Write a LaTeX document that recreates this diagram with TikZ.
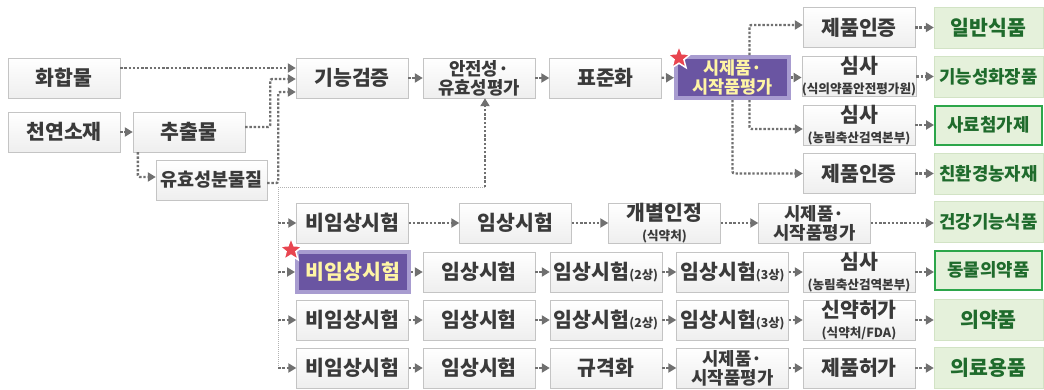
\documentclass[tikz,border=0pt]{standalone}
\usepackage{fontspec}
\setmainfont{Noto Sans CJK KR}
\usetikzlibrary{arrows.meta,positioning,shapes.geometric}
\definecolor{txtgray}{HTML}{3A3A3A}
\definecolor{lngray}{HTML}{707070}
\definecolor{bdrgray}{HTML}{C4C4C4}
\definecolor{grnfill}{HTML}{E5F1DB}
\definecolor{grntxt}{HTML}{1F6B2C}
\definecolor{grnbdr}{HTML}{D2E3C5}
\definecolor{grnline}{HTML}{2CA64A}
\definecolor{purp}{HTML}{6A55A2}
\definecolor{lav}{HTML}{A89CD0}
\definecolor{ylw}{HTML}{FFF5A5}
\definecolor{starred}{HTML}{E84550}
\newcommand{\subtxt}[1]{{\fontsize{12.6}{14}\selectfont #1}}
\newcommand{\phasetxt}[1]{{\fontsize{12.3}{13}\selectfont #1}}

\begin{document}
\begin{tikzpicture}[x=1pt,y=-1pt,>={Triangle[length=8pt,width=9pt]},
    base/.style={minimum width=112pt,minimum height=40pt,inner sep=0pt,align=center,font=\bfseries\fontsize{20.5}{20}\selectfont},
    box/.style={base,draw=bdrgray,top color=white,bottom color=gray!13,text=txtgray},
    twoline/.style={box,font=\bfseries\fontsize{17.8}{19}\selectfont},
    gbox/.style={base,draw=grnbdr,fill=grnfill,text=grntxt,minimum width=109pt,minimum height=41pt},
    gsmall/.style={font=\bfseries\fontsize{17.8}{19}\selectfont},
    hbox/.style={gbox,draw=grnline,line width=2pt,minimum width=107pt,minimum height=39pt},
    pbox/.style={base,draw=lav,line width=4pt,fill=purp,text=ylw},
    arr/.style={->,draw=lngray,line width=2.4pt,dash pattern=on 2.4pt off 1.8pt},
    thinline/.style={draw=gray!60,line width=0.8pt,dash pattern=on 1pt off 1pt},
    redstar/.style={star,star points=5,star point ratio=2.3,fill=starred,draw=white,line width=1.5pt,minimum size=24pt,inner sep=0pt}]
    \useasboundingbox (0,0) rectangle (1044,389);

    % sources
    \node[box] (hh) at (64,78) {화합물};
    \node[box] (cy) at (64,132) {천연소재};
    \node[box] (ex) at (189,132) {추출물};
    \node[box,minimum width=111pt,font=\bfseries\fontsize{18.5}{20}\selectfont] (ae) at (211.5,180) {유효성분물질};

    % main line
    \node[box] (fv) at (352,78) {기능검증};
    \node[twoline] (se) at (479,78) {안전성·\\유효성평가};
    \node[box] (st) at (605.5,78) {표준화};
    \node[pbox,minimum width=113pt,minimum height=41pt,font=\bfseries\fontsize{17.5}{19}\selectfont] (pt) at (732.5,77.5) {시제품·\\시작품평가};
    \node[redstar] (s1) at (679,58) {};

    \node[box] (p1) at (859,27.5) {제품인증};
    \node[box] (p2) at (859,76.5) {심사\\\subtxt{(식의약품안전평가원)}};
    \node[box] (p3) at (859,125) {심사\\\subtxt{(농림축산검역본부)}};
    \node[box] (p4) at (859,173.5) {제품인증};
    \node[gbox] (g1) at (988.5,27.5) {일반식품};
    \node[gbox,gsmall] (g2) at (988.5,76.5) {기능성화장품};
    \node[hbox,gsmall] (g3) at (988.5,125) {사료첨가제};
    \node[gbox,gsmall] (g4) at (988.5,173.5) {친환경농자재};

    % rows
    \node[box] (a1) at (352.5,223) {비임상시험};
    \node[box] (a2) at (515.5,223) {임상시험};
    \node[box] (a3) at (664.5,223) {개별인정\\\subtxt{(식약처)}};
    \node[twoline] (a4) at (814.5,223) {시제품·\\시작품평가};
    \node[gbox,gsmall] (a5) at (988.5,222) {건강기능식품};

    \node[pbox] (b1) at (353,272) {비임상시험};
    \node[redstar] (s2) at (291,250) {};
    \node[box] (b2) at (479,272) {임상시험};
    \node[box] (b3) at (606,272) {임상시험\phasetxt{(2상)}};
    \node[box] (b4) at (732.5,272) {임상시험\phasetxt{(3상)}};
    \node[box] (b5) at (859,272) {심사\\\subtxt{(농림축산검역본부)}};
    \node[hbox,gsmall] (b6) at (988.5,270) {동물의약품};

    \node[box] (c1) at (352.5,320) {비임상시험};
    \node[box] (c2) at (479,320) {임상시험};
    \node[box] (c3) at (606,320) {임상시험\phasetxt{(2상)}};
    \node[box] (c4) at (732.5,320) {임상시험\phasetxt{(3상)}};
    \node[box] (c5) at (859,320) {신약허가\\\subtxt{(식약처/FDA)}};
    \node[gbox] (c6) at (988.5,320) {의약품};

    \node[box] (d1) at (352.5,368) {비임상시험};
    \node[box] (d2) at (479,368) {임상시험};
    \node[box] (d3) at (606,368) {규격화};
    \node[twoline] (d4) at (732.5,368) {시제품·\\시작품평가};
    \node[box] (d5) at (859,368) {제품허가};
    \node[gbox] (d6) at (988.5,368) {의료용품};

    % connectors
    \draw[arr] ([yshift=10pt]hh.east) -- ([yshift=10pt]fv.west);
    \draw[arr] (cy) -- (ex);
    \draw[arr,rounded corners=2pt] ([yshift=5pt]ex.east) -- ++(25,0) |- ([yshift=-1pt]fv.west);
    \draw[arr,rounded corners=2pt] ([yshift=-3pt]ae.east) -- ++(11,0) |- ([yshift=-14pt]fv.west);
    \draw[arr,rounded corners=2pt] ([xshift=5pt]ex.south west) |- ([yshift=3pt]ae.west);

    \coordinate (fk) at ([xshift=11pt,yshift=-7pt]ae.east);
    \coordinate (sk) at (485,187);
    \draw[thinline] (fk) -- (sk);
    \draw[arr] (sk) -- (sk |- se.south);
    \draw[thinline] (fk) -- (fk |- d1);
    \foreach \n in {a1,b1,c1,d1}
      \draw[arr] (fk |- \n) -- (\n.west);

    \draw[arr] (fv) -- (se);
    \draw[arr] (se) -- (st);
    \draw[arr] (st) -- (pt);
    \draw[arr,rounded corners=2pt] ([xshift=17pt]pt.north) |- ([yshift=2.5pt]p1.west);
    \draw[arr] (pt.east) -- (pt.east -| p2.west);
    \draw[arr,rounded corners=2pt] ([xshift=17pt]pt.south) |- ([yshift=-4pt]p3.west);
    \draw[arr,rounded corners=2pt] (pt.south) |- (p4.west);
    \foreach \i in {1,...,4}
      \draw[arr] (p\i.east) -- (g\i.west);

    \foreach \r/\n in {a/4,b/5,c/5,d/5}
      \foreach \i [count=\j from 2] in {1,...,\n}
        \draw[arr] (\r\i.east) -- (\r\i.east -| \r\j.west);
\end{tikzpicture}
\end{document}
